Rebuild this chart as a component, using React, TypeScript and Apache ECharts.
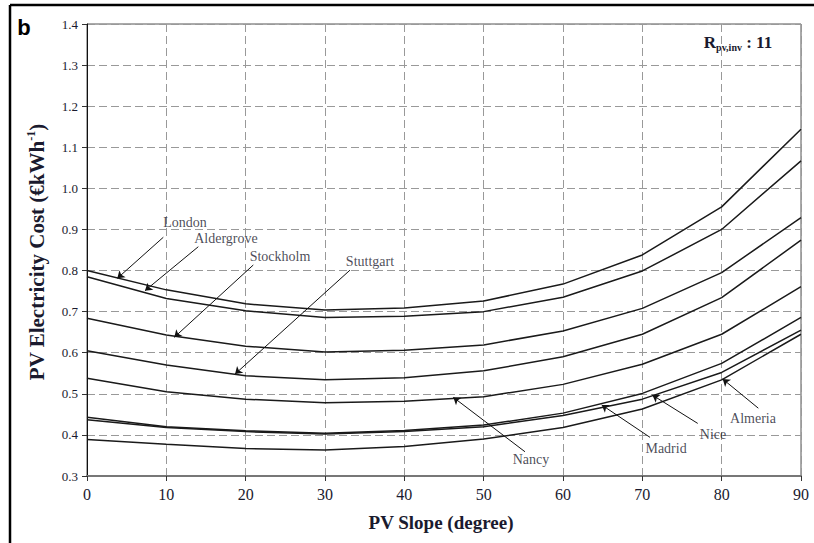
import React, { useEffect, useRef } from "react";
import * as echarts from "echarts";

const slopes = [0, 10, 20, 30, 40, 50, 60, 70, 80, 90];
const cityNames = ["London", "Aldergrove", "Stockholm", "Stuttgart", "Nancy", "Madrid", "Nice", "Almeria"];
const london = [0.8, 0.753, 0.719, 0.704, 0.709, 0.726, 0.767, 0.838, 0.955, 1.144];
const aldergrove = [0.785, 0.732, 0.702, 0.686, 0.689, 0.7, 0.735, 0.799, 0.9, 1.067];
const stockholm = [0.684, 0.643, 0.616, 0.602, 0.606, 0.619, 0.653, 0.708, 0.795, 0.929];
const stuttgart = [0.605, 0.57, 0.544, 0.534, 0.539, 0.556, 0.59, 0.645, 0.734, 0.874];
const nancy = [0.538, 0.505, 0.487, 0.478, 0.482, 0.493, 0.523, 0.572, 0.645, 0.761];
const madrid = [0.443, 0.42, 0.41, 0.404, 0.411, 0.424, 0.453, 0.501, 0.574, 0.686];
const nice = [0.437, 0.418, 0.408, 0.402, 0.408, 0.42, 0.447, 0.487, 0.552, 0.655];
const almeria = [0.389, 0.377, 0.367, 0.363, 0.372, 0.39, 0.418, 0.463, 0.534, 0.645];
const seriesValues = [london, aldergrove, stockholm, stuttgart, nancy, madrid, nice, almeria];

// annotation label centres [slope, cost]
const labelPos = [
  [12.35, 0.918],
  [17.52, 0.877],
  [24.33, 0.833],
  [35.67, 0.821],
  [55.97, 0.339],
  [72.99, 0.368],
  [78.91, 0.402],
  [83.95, 0.441],
];
// arrow start and tip [slope, cost]
const arrowStart = [
  [9.62, 0.881],
  [14.03, 0.858],
  [20.96, 0.8135],
  [33.15, 0.801],
  [55.21, 0.359],
  [70.97, 0.394],
  [76.98, 0.428],
  [84.62, 0.465],
];
const arrowTip = [
  [3.82, 0.781],
  [7.31, 0.751],
  [11.0, 0.6375],
  [18.66, 0.548],
  [46.17, 0.4915],
  [64.88, 0.473],
  [71.26, 0.497],
  [80.13, 0.536],
];

const SERIF = "Liberation Serif";

export default function App() {
  const ref = useRef<HTMLDivElement>(null);
  useEffect(() => {
    if (!ref.current) return;
    const chart = echarts.init(ref.current, null, { renderer: "svg" });
    const lineSeries = seriesValues.map((vals, i) => ({
      name: cityNames[i],
      type: "line",
      data: slopes.map((s, j) => [s, vals[j]]),
      showSymbol: false,
      symbol: "none",
      lineStyle: { color: "#1a1a1a", width: 1.5 },
      silent: true,
      z: 3,
    }));
    const option: any = {
      animation: false,
      backgroundColor: "#ffffff",
      textStyle: { fontFamily: SERIF },
      grid: {
        left: 87,
        right: 13,
        top: 24,
        bottom: 67,
        show: true,
        borderColor: "#555",
        borderWidth: 1,
        backgroundColor: "transparent",
      },
      xAxis: {
        type: "value",
        min: 0,
        max: 90,
        interval: 10,
        axisLine: { show: true, lineStyle: { color: "#777", width: 2 } },
        axisTick: { show: true, length: 5, inside: false, lineStyle: { color: "#333" } },
        axisLabel: { fontFamily: SERIF, fontSize: 16, color: "#1a1a2e", margin: 10 },
        splitLine: { show: true, lineStyle: { color: "#999", type: [8, 4], width: 1 } },
      },
      yAxis: {
        type: "value",
        min: 0.3,
        max: 1.4,
        interval: 0.1,
        axisLine: { show: true, lineStyle: { color: "#111", width: 1 } },
        axisTick: { show: true, length: 5, lineStyle: { color: "#333" } },
        axisLabel: {
          fontFamily: SERIF,
          fontSize: 13,
          color: "#1a1a2e",
          margin: 9,
          formatter: (v: number) => v.toFixed(1),
        },
        splitLine: { show: true, lineStyle: { color: "#999", type: [8, 4], width: 1 } },
      },
      series: [
        ...lineSeries,
        {
          name: "arrows",
          type: "line",
          data: [],
          silent: true,
          z: 4,
          markLine: {
            silent: true,
            animation: false,
            symbol: ["none", "arrow"],
            symbolSize: 7,
            label: { show: false },
            lineStyle: { color: "#111", width: 1, type: "solid" },
            data: arrowStart.map((s, i) => [{ coord: s }, { coord: arrowTip[i] }]),
          },
        },
        {
          name: "labels",
          type: "scatter",
          silent: true,
          symbolSize: 1,
          itemStyle: { color: "rgba(0,0,0,0)" },
          z: 5,
          data: labelPos.map((p, i) => ({ name: cityNames[i], value: p })),
          label: {
            show: true,
            position: "inside",
            formatter: "{b}",
            fontFamily: SERIF,
            fontSize: 14,
            color: "#1a1a2e",
          },
        },
      ],
      graphic: [
        { type: "line", shape: { x1: 10, y1: 5, x2: 814, y2: 5 }, style: { stroke: "#000", lineWidth: 2.5 } },
        { type: "line", shape: { x1: 10, y1: 5, x2: 10, y2: 543 }, style: { stroke: "#000", lineWidth: 2.5 } },
        {
          type: "text",
          x: 24,
          y: 27,
          style: {
            text: "b",
            font: "bold 22px Liberation Sans",
            fill: "#000",
            textAlign: "center",
            textVerticalAlign: "middle",
          },
        },
        {
          type: "text",
          x: 738,
          y: 42,
          style: {
            text: "{r|R}{s|pv,inv}{r| : 11}",
            textAlign: "center",
            textVerticalAlign: "middle",
            rich: {
              r: { fontFamily: SERIF, fontWeight: "bold", fontSize: 17, fill: "#1a1a2e", lineHeight: 20, verticalAlign: "middle" },
              s: { fontFamily: SERIF, fontWeight: "bold", fontSize: 10, fill: "#1a1a2e", lineHeight: 10, verticalAlign: "bottom" },
            },
          },
        },
        {
          type: "text",
          x: 441,
          y: 522,
          style: {
            text: "PV Slope (degree)",
            font: "bold 19px Liberation Serif",
            fill: "#1a1a2e",
            textAlign: "center",
            textVerticalAlign: "middle",
          },
        },
        {
          type: "text",
          x: 37,
          y: 252,
          rotation: Math.PI / 2,
          style: {
            text: "{a|PV Electricity Cost (€kWh}{s|-1}{a|)}",
            textAlign: "center",
            textVerticalAlign: "middle",
            rich: {
              a: { fontFamily: SERIF, fontWeight: "bold", fontSize: 21, fill: "#1a1a2e", lineHeight: 24, verticalAlign: "middle" },
              s: { fontFamily: SERIF, fontWeight: "bold", fontSize: 12, fill: "#1a1a2e", lineHeight: 12, verticalAlign: "top" },
            },
          },
        },
      ],
    };
    chart.setOption(option);
    return () => chart.dispose();
  }, []);
  return (
    <div
      ref={ref}
      style={{ position: "fixed", left: 0, top: 0, width: 814, height: 543, background: "#fff" }}
    />
  );
}
